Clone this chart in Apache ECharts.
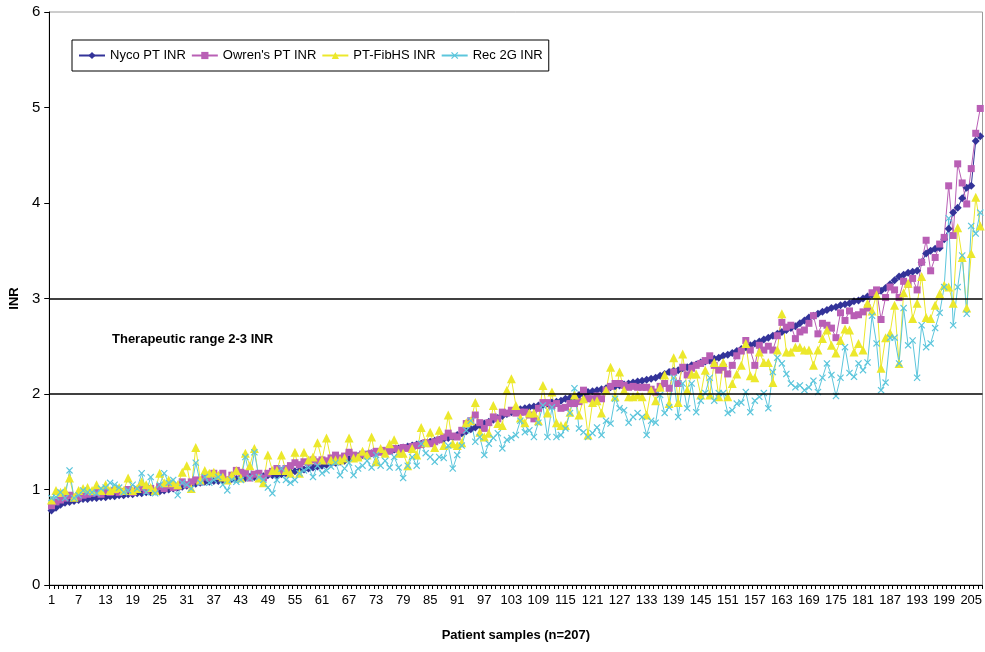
<!DOCTYPE html>
<html><head><meta charset="utf-8">
<script src="https://cdn.jsdelivr.net/npm/echarts@6/dist/echarts.min.js"></script>
<style>html,body{margin:0;padding:0;background:#fff}#c{width:985px;height:652px}</style>
</head><body><div id="c"></div>
<script>
const seriesNames = ["Nyco PT INR", "Owren's PT INR", "PT-FibHS INR", "Rec 2G INR"];
const nyco = [
0.78,0.81,0.84,0.86,0.87,0.88,0.89,0.90,0.90,0.91,
0.91,0.92,0.92,0.93,0.93,0.94,0.94,0.95,0.95,0.96,
0.96,0.97,0.97,0.98,0.98,0.99,1.00,1.01,1.02,1.03,
1.04,1.05,1.06,1.07,1.08,1.08,1.09,1.09,1.10,1.10,
1.11,1.11,1.12,1.12,1.13,1.13,1.14,1.14,1.15,1.15,
1.15,1.16,1.17,1.18,1.19,1.20,1.21,1.22,1.23,1.24,
1.25,1.26,1.27,1.28,1.29,1.30,1.32,1.34,1.35,1.36,
1.37,1.38,1.39,1.40,1.40,1.41,1.42,1.43,1.44,1.45,
1.46,1.47,1.48,1.49,1.50,1.51,1.52,1.53,1.54,1.55,
1.57,1.59,1.61,1.63,1.65,1.67,1.69,1.71,1.73,1.75,
1.77,1.79,1.81,1.83,1.84,1.85,1.86,1.87,1.88,1.89,
1.90,1.91,1.92,1.93,1.95,1.96,1.97,1.99,2.00,2.02,
2.03,2.04,2.05,2.06,2.07,2.08,2.09,2.10,2.11,2.12,
2.13,2.14,2.15,2.16,2.17,2.19,2.21,2.23,2.24,2.25,
2.27,2.28,2.30,2.31,2.33,2.34,2.35,2.37,2.38,2.40,
2.41,2.43,2.45,2.47,2.49,2.51,2.53,2.55,2.57,2.59,
2.61,2.63,2.65,2.67,2.69,2.71,2.74,2.77,2.80,2.82,
2.84,2.86,2.88,2.90,2.91,2.93,2.94,2.95,2.97,2.98,
3.00,3.02,3.04,3.06,3.08,3.11,3.15,3.19,3.23,3.25,
3.27,3.28,3.29,3.38,3.47,3.50,3.52,3.53,3.62,3.73,
3.90,3.95,4.05,4.16,4.18,4.65,4.70];
const owren = [
0.83,0.87,0.89,0.91,0.94,0.92,0.92,0.94,0.95,0.96,
0.97,0.95,0.98,0.97,0.99,0.97,0.98,1.00,0.97,1.00,
1.02,0.99,1.01,0.98,1.03,1.01,1.04,1.02,1.03,1.08,
1.05,1.08,1.10,1.08,1.13,1.12,1.17,1.14,1.17,1.10,
1.15,1.20,1.18,1.17,1.12,1.16,1.17,1.12,1.17,1.19,
1.22,1.20,1.22,1.25,1.28,1.26,1.29,1.28,1.31,1.29,
1.31,1.30,1.33,1.36,1.33,1.35,1.39,1.36,1.34,1.37,
1.36,1.38,1.40,1.39,1.41,1.40,1.43,1.42,1.44,1.43,
1.45,1.46,1.47,1.49,1.48,1.50,1.52,1.55,1.59,1.56,
1.55,1.62,1.69,1.72,1.78,1.70,1.64,1.70,1.76,1.74,
1.81,1.80,1.83,1.80,1.81,1.81,1.78,1.74,1.85,1.91,
1.91,1.88,1.90,1.85,1.86,1.90,1.90,1.92,2.04,1.95,
1.95,1.98,1.95,2.04,2.08,2.11,2.11,2.09,2.07,2.08,
2.07,2.07,2.07,2.05,2.02,2.08,2.11,2.06,2.23,2.11,
2.28,2.20,2.27,2.30,2.32,2.35,2.40,2.30,2.25,2.28,
2.21,2.30,2.40,2.45,2.56,2.46,2.30,2.51,2.46,2.50,
2.46,2.61,2.75,2.70,2.72,2.58,2.65,2.67,2.74,2.82,
2.63,2.74,2.72,2.69,2.59,2.85,2.77,2.87,2.82,2.83,
2.86,2.90,3.06,3.09,2.78,3.01,3.12,3.09,3.01,3.18,
3.15,3.21,3.09,3.38,3.61,3.29,3.43,3.57,3.64,4.18,
3.66,4.41,4.21,3.99,4.36,4.73,4.99];
const fibhs = [
0.89,0.99,0.97,0.99,1.12,0.92,0.99,1.01,1.02,0.99,
1.05,0.99,1.05,0.99,1.01,1.02,0.99,1.12,0.99,1.01,
1.08,1.05,1.02,0.99,1.17,1.07,1.10,1.07,1.05,1.18,
1.25,1.01,1.44,1.10,1.20,1.17,1.18,1.15,1.13,1.10,
1.15,1.20,1.12,1.38,1.25,1.43,1.12,1.07,1.36,1.20,
1.20,1.36,1.20,1.17,1.39,1.17,1.39,1.31,1.34,1.49,
1.31,1.54,1.31,1.31,1.31,1.33,1.54,1.33,1.34,1.40,
1.36,1.55,1.29,1.43,1.38,1.48,1.52,1.38,1.38,1.25,
1.43,1.36,1.65,1.49,1.60,1.44,1.62,1.46,1.78,1.48,
1.46,1.49,1.70,1.72,1.91,1.60,1.55,1.59,1.88,1.69,
1.67,2.04,2.16,1.88,1.75,1.70,1.80,1.80,1.72,2.09,
1.80,2.02,1.70,1.67,1.67,1.81,1.99,1.78,1.95,1.57,
1.91,1.93,1.80,2.04,2.28,1.97,2.23,2.04,1.97,1.97,
1.99,1.97,1.78,2.04,1.93,2.07,2.20,1.90,2.38,1.91,
2.42,2.04,2.21,2.21,1.99,2.25,1.99,2.33,1.97,2.33,
1.97,2.11,2.21,2.30,2.53,2.19,2.17,2.44,2.33,2.33,
2.12,2.46,2.84,2.44,2.44,2.49,2.49,2.46,2.46,2.30,
2.46,2.58,2.67,2.51,2.43,2.56,2.68,2.67,2.44,2.53,
2.46,2.95,2.87,3.04,2.27,2.59,2.64,2.93,2.32,3.06,
3.16,2.79,2.95,3.23,2.80,2.79,2.93,3.05,3.14,3.12,
2.95,3.74,3.43,2.90,3.47,4.06,3.76];
const rec2g = [
0.91,0.92,0.97,0.91,1.20,0.91,0.94,0.99,0.97,0.97,
0.96,1.01,1.02,1.07,1.05,1.02,0.97,0.99,1.05,1.01,
1.17,0.97,1.13,0.96,1.05,1.17,1.07,1.10,0.94,1.07,
1.05,1.01,1.28,1.07,1.13,1.07,1.10,1.13,1.05,0.99,
1.10,1.08,1.10,1.34,1.12,1.39,1.13,1.10,1.02,0.96,
1.10,1.22,1.10,1.07,1.10,1.17,1.20,1.23,1.13,1.25,
1.17,1.20,1.24,1.28,1.15,1.22,1.28,1.15,1.22,1.25,
1.30,1.23,1.36,1.25,1.30,1.23,1.34,1.23,1.12,1.25,
1.34,1.25,1.48,1.38,1.34,1.29,1.34,1.33,1.46,1.22,
1.36,1.46,1.62,1.72,1.50,1.55,1.36,1.48,1.54,1.59,
1.43,1.52,1.54,1.57,1.72,1.60,1.62,1.55,1.70,1.88,
1.55,1.86,1.55,1.57,1.64,1.80,2.06,1.64,1.60,1.55,
1.59,1.65,1.57,1.72,1.69,1.95,1.85,1.83,1.70,1.76,
1.80,1.76,1.57,1.72,1.70,1.99,1.80,1.86,2.17,1.76,
2.11,1.85,2.11,1.81,1.93,2.01,2.17,1.93,2.01,2.01,
1.80,1.83,1.90,1.91,2.02,1.81,1.93,1.97,2.01,1.85,
2.23,2.38,2.32,2.21,2.11,2.07,2.09,2.04,2.07,2.14,
2.02,2.17,2.32,2.20,1.98,2.17,2.49,2.22,2.18,2.32,
2.25,2.33,2.82,2.53,2.04,2.12,2.59,2.59,2.32,2.90,
2.51,2.56,2.17,2.72,2.49,2.53,2.69,2.85,3.12,3.84,
2.72,3.12,3.45,2.84,3.76,3.68,3.90];
const categories = nyco.map((_, i) => String(i + 1));
const rangeLines = [2, 3];
const FONT = '"Liberation Sans", Arial, sans-serif';
const xMark = 'path://M0,1.2L1.2,0L5,3.8L8.8,0L10,1.2L6.2,5L10,8.8L8.8,10L5,6.2L1.2,10L0,8.8L3.8,5Z';

const chart = echarts.init(document.getElementById('c'), null, {renderer: 'canvas'});
function mk(name, data, color, symbol, size, extra) {
  return Object.assign({
    name, type: 'line', data, symbol, symbolSize: size, showSymbol: true, showAllSymbol: true,
    lineStyle: {color, width: 1}, itemStyle: {color, borderWidth: 0},
    emphasis: {disabled: true}, animation: false
  }, extra || {});
}
chart.setOption({
  animation: false,
  textStyle: {fontFamily: FONT, color: '#000'},
  grid: {left: 44, right: 1, top: 12, bottom: 67, show: true, borderColor: '#9a9a9a', borderWidth: 1},
  legend: {
    left: 72, top: 40, width: 700, itemGap: 5, itemWidth: 26, itemHeight: 9,
    padding: [9, 6, 9, 6], borderColor: '#000', borderWidth: 1,
    textStyle: {fontFamily: FONT, fontSize: 13, color: '#000'},
    data: seriesNames
  },
  xAxis: {
    type: 'category', data: categories, boundaryGap: true,
    name: 'Patient samples (n=207)', nameLocation: 'middle', nameGap: 44,
    nameTextStyle: {fontFamily: FONT, fontWeight: 'bold', fontSize: 13, color: '#000'},
    axisLine: {lineStyle: {color: '#000', width: 1}},
    axisTick: {show: true, interval: 0, length: 4, lineStyle: {color: '#000'}},
    axisLabel: {interval: 5, fontSize: 13, margin: 9, color: '#000', fontFamily: FONT},
    splitLine: {show: false}
  },
  yAxis: {
    type: 'value', min: 0, max: 6, interval: 1,
    name: 'INR', nameLocation: 'middle', nameGap: 28,
    nameTextStyle: {fontFamily: FONT, fontWeight: 'bold', fontSize: 13, color: '#000'},
    axisLine: {show: true, lineStyle: {color: '#000', width: 1}},
    axisTick: {show: true, length: 5, lineStyle: {color: '#000'}},
    axisLabel: {fontSize: 15, margin: 9, color: '#000', fontFamily: FONT},
    splitLine: {show: false}
  },
  graphic: [{
    type: 'text', left: 112, top: 333, silent: true,
    style: {text: 'Therapeutic range 2-3 INR', font: 'bold 13px ' + FONT, fill: '#000'}
  }],
  series: [
    mk(seriesNames[0], nyco, '#333399', 'diamond', 8, {
      markLine: {
        silent: true, symbol: ['none', 'none'], animation: false,
        label: {show: false},
        lineStyle: {color: '#000', width: 1.5, type: 'solid'},
        data: rangeLines.map(v => ({yAxis: v}))
      }
    }),
    mk(seriesNames[1], owren, '#b95fb5', 'rect', 7),
    mk(seriesNames[2], fibhs, '#ece82c', 'triangle', 9),
    mk(seriesNames[3], rec2g, '#5cc6dc', xMark, 7)
  ]
});
</script></body></html>
